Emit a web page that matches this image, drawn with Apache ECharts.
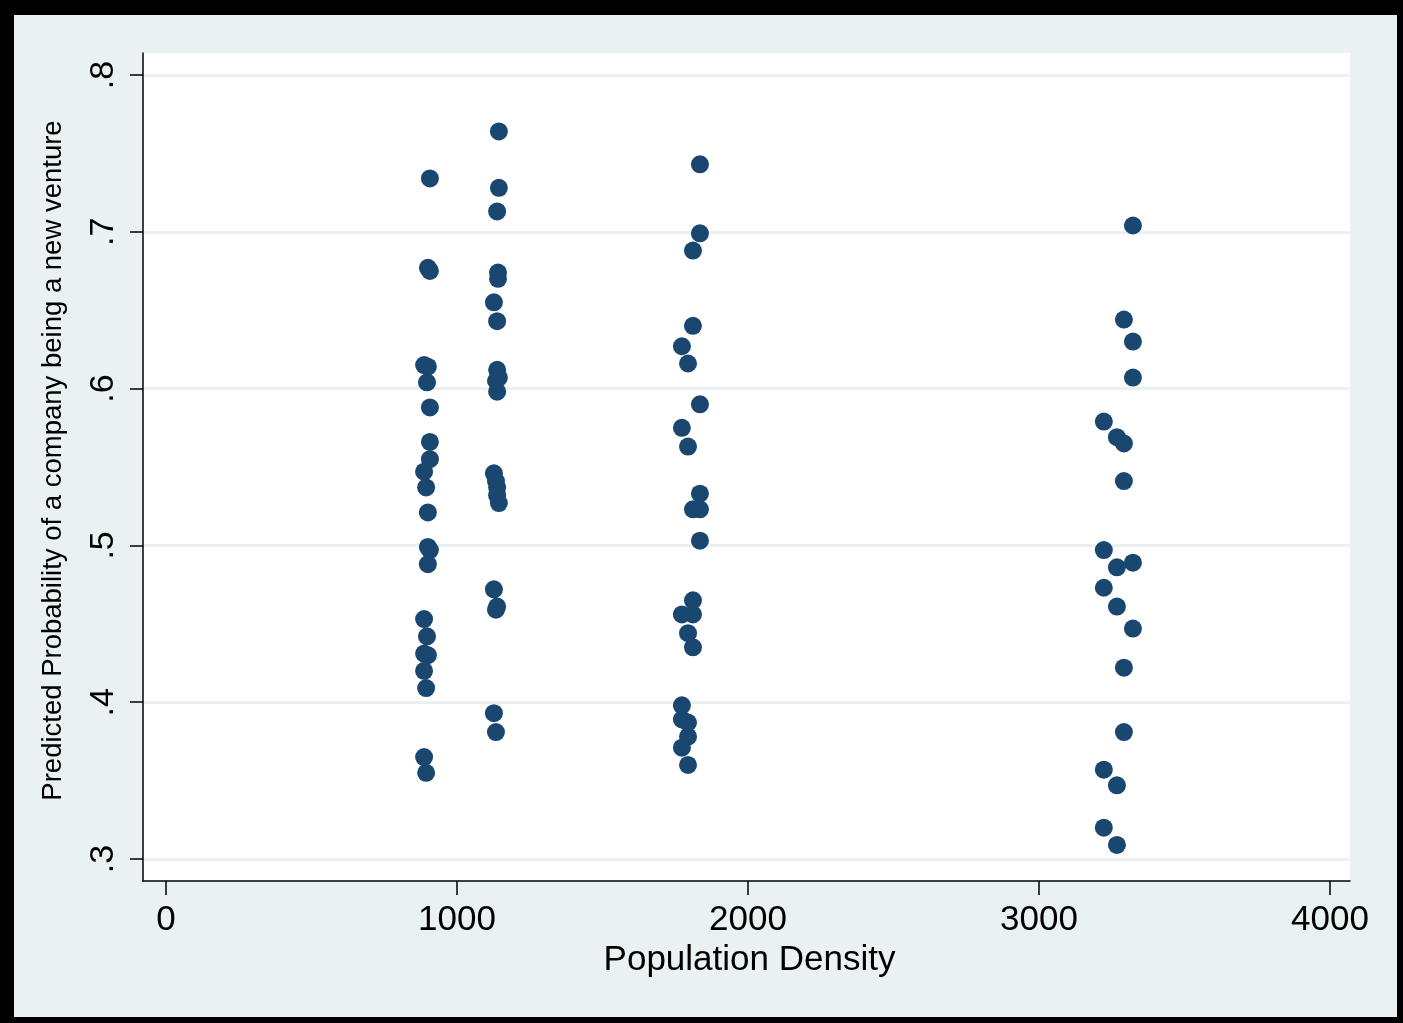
<!DOCTYPE html>
<html>
<head>
<meta charset="utf-8">
<script src="https://cdn.jsdelivr.net/npm/echarts@6/dist/echarts.min.js"></script>
<style>
  html, body { margin: 0; padding: 0; background: #000; }
  #frame { position: absolute; left: 0; top: 0; width: 1403px; height: 1023px; background: #000; }
  #chart { position: absolute; left: 14px; top: 15px; width: 1383px; height: 1002px; background: #eaf1f3; }
</style>
</head>
<body>
<div id="frame"></div>
<div id="chart"></div>
<script>
// Population density (x) and predicted probability (y)
const densityValues = [
  907, 900, 907, 887, 900, 897, 907, 907, 907, 887, 894, 900, 900, 907, 900, 887, 897, 887, 900, 887, 894, 887, 894,
  1144, 1144, 1138, 1141, 1141, 1127, 1138, 1138, 1144, 1134, 1138, 1127, 1134, 1138, 1138, 1144, 1127, 1138, 1134, 1127, 1134,
  1835, 1835, 1811, 1811, 1773, 1794, 1835, 1773, 1794, 1835, 1811, 1835, 1835, 1811, 1773, 1811, 1794, 1811, 1773, 1773, 1794, 1794, 1773, 1794,
  3323, 3292, 3323, 3323, 3223, 3268, 3292, 3292, 3223, 3268, 3323, 3223, 3268, 3323, 3292, 3292, 3223, 3268, 3223, 3268
];
const probabilityValues = [
  0.734, 0.677, 0.675, 0.615, 0.614, 0.604, 0.588, 0.566, 0.555, 0.547, 0.537, 0.521, 0.499, 0.497, 0.488, 0.453, 0.442, 0.431, 0.430, 0.420, 0.409, 0.365, 0.355,
  0.764, 0.728, 0.713, 0.674, 0.670, 0.655, 0.643, 0.612, 0.607, 0.605, 0.598, 0.546, 0.541, 0.537, 0.532, 0.527, 0.472, 0.461, 0.459, 0.393, 0.381,
  0.743, 0.699, 0.688, 0.640, 0.627, 0.616, 0.590, 0.575, 0.563, 0.533, 0.523, 0.523, 0.503, 0.465, 0.456, 0.456, 0.444, 0.435, 0.398, 0.389, 0.387, 0.378, 0.371, 0.360,
  0.704, 0.644, 0.630, 0.607, 0.579, 0.569, 0.565, 0.541, 0.497, 0.486, 0.489, 0.473, 0.461, 0.447, 0.422, 0.381, 0.357, 0.347, 0.320, 0.309
];
const xTicks = [0, 1000, 2000, 3000, 4000];
const yTicks = [0.3, 0.4, 0.5, 0.6, 0.7, 0.8];
const xTitle = 'Population Density';
const yTitle = 'Predicted Probability of a company being a new venture';

const points = densityValues.map((x, i) => [x, probabilityValues[i]]);

const chart = echarts.init(document.getElementById('chart'), null, { renderer: 'canvas' });
const font = '"Liberation Sans", Arial, sans-serif';
chart.setOption({
  animation: false,
  backgroundColor: '#eaf1f3',
  grid: {
    left: 129, right: 47, top: 38, bottom: 136,
    show: true, backgroundColor: '#ffffff', borderWidth: 0
  },
  xAxis: {
    type: 'value',
    min: -79, max: 4069,
    name: xTitle,
    nameLocation: 'middle',
    nameGap: 55,
    nameTextStyle: { fontFamily: font, fontSize: 35, color: '#000', padding: [0, 0, 0, 6] },
    axisLine: { show: true, onZero: false, lineStyle: { color: '#000', width: 1.5 } },
    axisTick: { show: true, length: 14, customValues: xTicks, lineStyle: { color: '#000', width: 1.5 } },
    axisLabel: {
      customValues: xTicks, fontFamily: font, fontSize: 35, color: '#000', margin: 22,
      formatter: v => String(Math.round(v))
    },
    splitLine: { show: false }
  },
  yAxis: {
    type: 'value',
    min: 0.286, max: 0.814,
    name: yTitle,
    nameLocation: 'middle',
    nameRotate: 90,
    nameGap: 76,
    nameTextStyle: { fontFamily: font, fontSize: 27.5, color: '#000', padding: [0, 0, 0, 13] },
    axisLine: { show: true, onZero: false, lineStyle: { color: '#000', width: 1.5 } },
    axisTick: { show: true, length: 13, customValues: yTicks, lineStyle: { color: '#000', width: 1.5 } },
    axisLabel: {
      customValues: yTicks, rotate: 90, fontFamily: font, fontSize: 34, color: '#000', margin: 22,
      formatter: v => String(Math.round(v * 10) / 10).replace(/^0\./, '.')
    },
    splitLine: { show: true, lineStyle: { color: '#eaf1f3', width: 3 } }
  },
  series: [{
    type: 'scatter',
    data: points,
    symbol: 'circle',
    symbolSize: 18,
    itemStyle: { color: '#1a476f', opacity: 1 },
    silent: true
  }]
});
</script>
</body>
</html>
